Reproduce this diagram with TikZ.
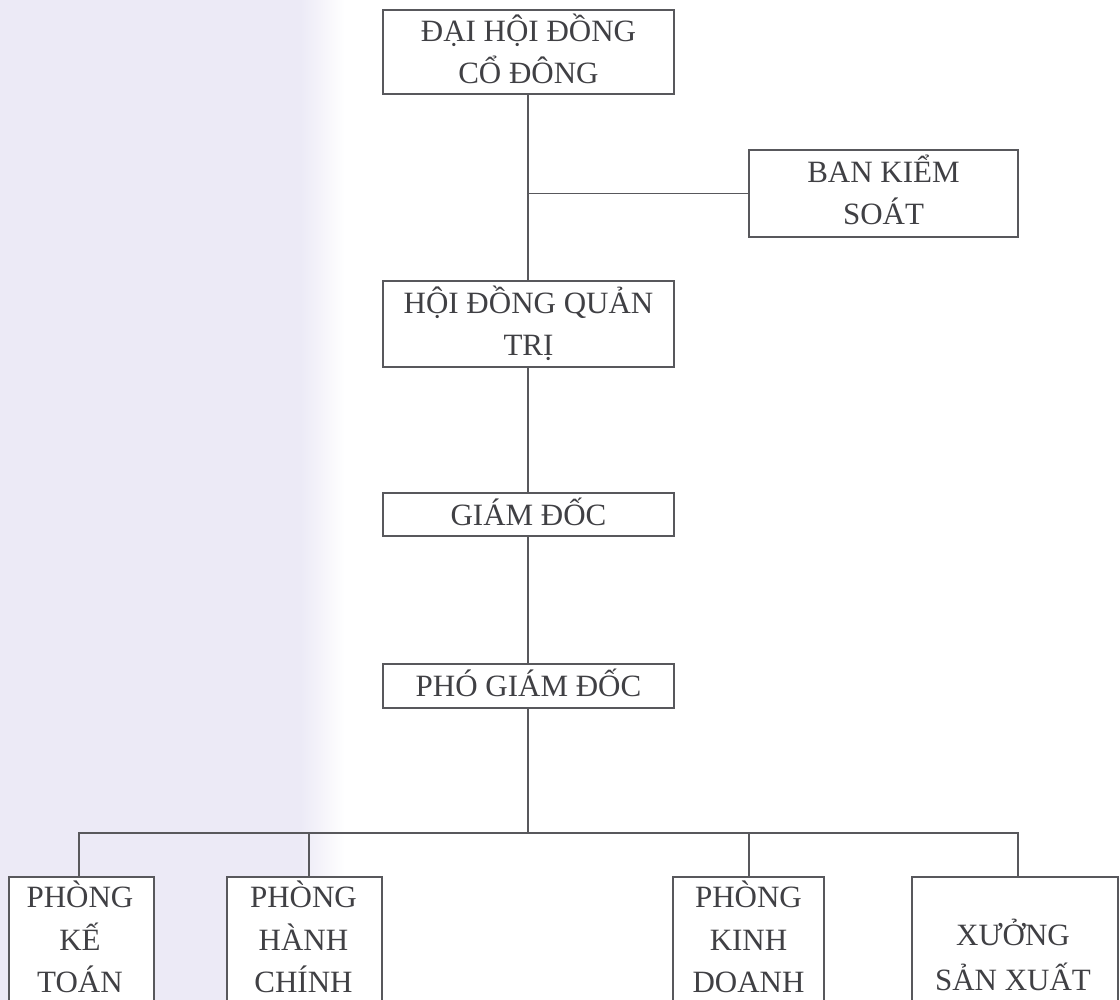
\documentclass[tikz,border=0pt]{standalone}
\usepackage{fontspec}
\setmainfont{Liberation Serif}
\usetikzlibrary{calc}
\definecolor{lav}{RGB}{236,234,246}
\definecolor{ink}{RGB}{64,64,68}
\definecolor{rule}{RGB}{88,88,92}
\tikzset{
  orgbox/.style={draw=rule, line width=1.4pt, inner sep=0pt, fill=white, text=ink,
    font=\fontsize{31}{42}\selectfont, align=center, text depth=0pt},
  oneline/.style={orgbox, text height=21pt},
  twoline/.style={orgbox, text height=63pt},
  lbl/.style={inner sep=0pt, text=ink, font=\fontsize{31}{42.5}\selectfont, align=center, text depth=0pt},
  link/.style={draw=rule, line width=1.3pt}
}
\begin{document}
\begin{tikzpicture}[x=1pt,y=-1pt]
\clip (0,0) rectangle (1120,1000);
\fill[white] (0,0) rectangle (1120,1000);
\fill[lav] (0,0) rectangle (300,1000);
\shade[left color=lav, right color=white] (300,0) rectangle (345,1000);

% upper chain
\node[twoline, minimum width=291pt, minimum height=84pt] (dhd) at (528.5,52) {ĐẠI HỘI ĐỒNG\\CỔ ĐÔNG};
\node[twoline, minimum width=269pt, minimum height=87pt] (bks) at (883.5,193.5) {BAN KIỂM\\SOÁT};
\node[twoline, minimum width=291pt, minimum height=86pt] (hdqt) at (528.5,324) {HỘI ĐỒNG QUẢN\\TRỊ};
\node[oneline, minimum width=291pt, minimum height=43pt] (gd) at (528.5,514.5) {GIÁM ĐỐC};
\node[oneline, minimum width=291pt, minimum height=44pt] (pgd) at (528.5,686) {PHÓ GIÁM ĐỐC};

% bottom boxes (cut by the page edge)
\node[orgbox, minimum width=145pt, minimum height=163pt] (pkt) at (81.5,958.5) {};
\node[orgbox, minimum width=155pt, minimum height=163pt] (phc) at (304.5,958.5) {};
\node[orgbox, minimum width=151pt, minimum height=163pt] (pkd) at (748.5,958.5) {};
\node[orgbox, minimum width=206pt, minimum height=163pt] (xsx) at (1015,958.5) {};

\node[lbl, text height=106pt] (pktt) at (80,939.5) {PHÒNG\\KẾ\\TOÁN};
\node[lbl, text height=106pt] (phct) at (303.5,939.5) {PHÒNG\\HÀNH\\CHÍNH};
\node[lbl, text height=106pt] (pkdt) at (748.5,939.5) {PHÒNG\\KINH\\DOANH};
\node[lbl, text height=65pt, font=\fontsize{31}{45}\selectfont] (xsxt) at (1013,957.5) {XƯỞNG\\SẢN XUẤT};

% connectors
\draw[link] ([xshift=-0.5pt]dhd.south) -- ([xshift=-0.5pt]hdqt.north);
\draw[link] (bks.west) -- (bks.west -| dhd.south);
\draw[link] ([xshift=-0.5pt]hdqt.south) -- ([xshift=-0.5pt]gd.north);
\draw[link] ([xshift=-0.5pt]gd.south) -- ([xshift=-0.5pt]pgd.north);
\coordinate (bus) at (528,833);
\draw[link] ([xshift=-0.5pt]pgd.south) -- (bus);
\draw[link] ([xshift=-2.5pt]pkt.north) |- (bus);
\draw[link] ([xshift=4.5pt]phc.north) |- (bus);
\draw[link] ([xshift=0.5pt]pkd.north) |- (bus);
\draw[link] ([xshift=3pt]xsx.north) |- (bus);
\end{tikzpicture}
\end{document}
